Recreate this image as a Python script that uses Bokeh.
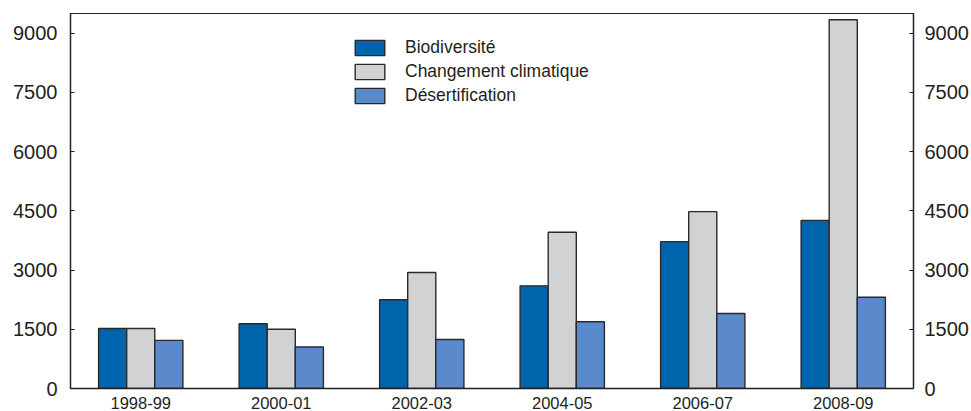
from bokeh.plotting import figure
from bokeh.models import (ColumnDataSource, FactorRange, Range1d, LinearAxis,
                          FixedTicker, Legend, LegendItem)
from bokeh.transform import dodge
from bokeh.embed import file_html
from bokeh.resources import INLINE

periods = ["1998-99", "2000-01", "2002-03", "2004-05", "2006-07", "2008-09"]
biodiversite = [1520, 1640, 2250, 2600, 3720, 4260]
changement_climatique = [1520, 1500, 2940, 3960, 4480, 9340]
desertification = [1220, 1050, 1240, 1690, 1900, 2310]
y_ticks = [0, 1500, 3000, 4500, 6000, 7500, 9000]
series_names = ["Biodiversité", "Changement climatique", "Désertification"]

colors = ["#0064AD", "#D1D2D4", "#5A8ACB"]
FONT = "Liberation Sans"
INK = "#231f20"

source = ColumnDataSource(dict(period=periods, bio=biodiversite,
                               clim=changement_climatique, des=desertification))

p = figure(x_range=FactorRange(*periods, range_padding=0),
           y_range=Range1d(0, 9500),
           width=971, height=411, output_backend="svg", toolbar_location=None,
           min_border_left=70, min_border_right=58, min_border_top=13,
           min_border_bottom=20)

p.xgrid.grid_line_color = None
p.ygrid.grid_line_color = None
p.outline_line_color = INK
p.outline_line_width = 1.2
p.background_fill_color = "white"
p.border_fill_color = "white"

cols = ["bio", "clim", "des"]
offsets = [-0.2, 0.0, 0.2]
renderers = []
for col, off, c in zip(cols, offsets, colors):
    r = p.vbar(x=dodge("period", off, range=p.x_range), top=col, width=0.2,
               source=source, fill_color=c, line_color="#2a2a2a", line_width=1.4)
    renderers.append(r)

# left axis
ya = p.yaxis[0]
ya.ticker = FixedTicker(ticks=y_ticks)
ya.minor_tick_line_color = None
ya.major_tick_in = 4
ya.major_tick_out = 0
ya.major_label_standoff = 13
ya.axis_line_color = INK
ya.axis_line_width = 1.3
ya.major_tick_line_color = INK
ya.major_label_text_font = FONT
ya.major_label_text_font_size = "20px"
ya.major_label_text_color = INK

# right axis
ra = LinearAxis(ticker=FixedTicker(ticks=y_ticks))
ra.minor_tick_line_color = None
ra.major_tick_in = 4
ra.major_tick_out = 0
ra.major_label_standoff = 11
ra.axis_line_color = INK
ra.axis_line_width = 1.3
ra.major_tick_line_color = INK
ra.major_label_text_font = FONT
ra.major_label_text_font_size = "20px"
ra.major_label_text_color = INK
p.add_layout(ra, "right")

# x axis
xa = p.xaxis[0]
xa.major_tick_line_color = None
xa.minor_tick_line_color = None
xa.axis_line_color = INK
xa.axis_line_width = 1.3
xa.major_label_standoff = 2
xa.major_label_text_font = FONT
xa.major_label_text_font_size = "16.5px"
xa.major_label_text_color = INK

legend = Legend(items=[LegendItem(label=n, renderers=[r]) for n, r in zip(series_names, renderers)],
                location=(281, 282), orientation="vertical",
                glyph_width=37, glyph_height=19, spacing=3, padding=0, margin=0,
                label_standoff=17, label_text_font=FONT,
                label_text_font_size="17.5px", label_text_color=INK,
                label_height=19,
                border_line_alpha=0, background_fill_alpha=0)
p.add_layout(legend, "center")

open("out.html", "w").write(file_html(p, INLINE))
